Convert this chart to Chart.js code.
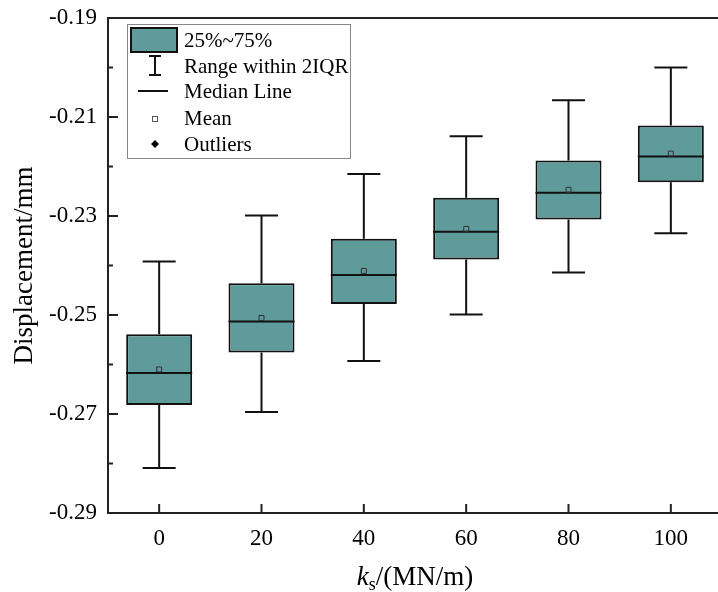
<!DOCTYPE html>
<html>
<head>
<meta charset="utf-8">
<script src="https://cdn.jsdelivr.net/npm/chart.js@4"></script>
<style>
  html, body { margin: 0; padding: 0; background: #fff; }
  #wrap { width: 718px; height: 592px; overflow: hidden; position: relative; }
  canvas { display: block; }
</style>
</head>
<body>
<div id="wrap"><canvas id="chart" width="727" height="592" style="width:727px;height:592px"></canvas></div>
<script>
// values
const categories = ['0', '20', '40', '60', '80', '100'];
const whiskerLow = [-0.2809, -0.2696, -0.2593, -0.2499, -0.2414, -0.2335];
const q1 = [-0.2682, -0.2576, -0.2478, -0.2388, -0.2307, -0.2232];
const median = [-0.2617, -0.2513, -0.2419, -0.2332, -0.2253, -0.2180];
const q3 = [-0.2539, -0.2436, -0.2346, -0.2263, -0.2188, -0.2117];
const whiskerHigh = [-0.2392, -0.2299, -0.2215, -0.2139, -0.2066, -0.2000];
const mean = [-0.2610, -0.2506, -0.2411, -0.2326, -0.2247, -0.2174];
const yTickLabels = [-0.29, -0.27, -0.25, -0.23, -0.21, -0.19];

const teal = '#609b9b';
const ink = '#111';
const serif = "'Liberation Serif', 'Times New Roman', serif";

function isMajor(v) {
  return yTickLabels.some(t => Math.abs(t - v) < 1e-6);
}

// whiskers + median lines, drawn right after the boxes
const boxExtras = {
  id: 'boxExtras',
  afterDatasetDraw(chart, args) {
    if (args.index !== 0) return;
    const ctx = chart.ctx;
    const y = chart.scales.y;
    const meta = chart.getDatasetMeta(0);
    ctx.save();
    ctx.strokeStyle = ink;
    ctx.lineWidth = 2;
    meta.data.forEach((bar, i) => {
      const cx = bar.x;
      const half = bar.width / 2;
      const cap = half / 2;
      const yHi = y.getPixelForValue(whiskerHigh[i]);
      const yQ3 = y.getPixelForValue(q3[i]);
      const yQ1 = y.getPixelForValue(q1[i]);
      const yLo = y.getPixelForValue(whiskerLow[i]);
      const yMed = y.getPixelForValue(median[i]);
      ctx.beginPath();
      ctx.moveTo(cx, yHi); ctx.lineTo(cx, yQ3);
      ctx.moveTo(cx, yQ1); ctx.lineTo(cx, yLo);
      ctx.moveTo(cx - cap, yHi); ctx.lineTo(cx + cap, yHi);
      ctx.moveTo(cx - cap, yLo); ctx.lineTo(cx + cap, yLo);
      ctx.moveTo(cx - half, yMed); ctx.lineTo(cx + half, yMed);
      ctx.stroke();
    });
    ctx.restore();
  }
};

// frame, inward ticks, x title and the legend box
const frameAndLegend = {
  id: 'frameAndLegend',
  afterDraw(chart) {
    const ctx = chart.ctx;
    const a = chart.chartArea;
    const x = chart.scales.x;
    const y = chart.scales.y;
    ctx.save();
    ctx.strokeStyle = '#222';
    ctx.lineWidth = 2;
    ctx.strokeRect(a.left, a.top, a.right - a.left, a.bottom - a.top);

    ctx.beginPath();
    y.ticks.forEach((t, i) => {
      const py = y.getPixelForTick(i);
      const len = isMajor(t.value) ? 10 : 5;
      ctx.moveTo(a.left, py); ctx.lineTo(a.left + len, py);
    });
    x.ticks.forEach((t, i) => {
      const px = x.getPixelForTick(i);
      ctx.moveTo(px, a.bottom); ctx.lineTo(px, a.bottom - 9);
    });
    ctx.stroke();

    // x axis title: k_s/(MN/m)
    ctx.fillStyle = '#000';
    ctx.textBaseline = 'alphabetic';
    const mainFont = '27px ' + serif;
    const italFont = 'italic 27px ' + serif;
    const subFont = '18px ' + serif;
    ctx.font = italFont; const wk = ctx.measureText('k').width;
    ctx.font = subFont; const ws = ctx.measureText('s').width;
    ctx.font = mainFont; const wr = ctx.measureText('/(MN/m)').width;
    let tx = (a.left + a.right) / 2 - (wk + ws + wr) / 2;
    const base = 585;
    ctx.textAlign = 'left';
    ctx.font = italFont; ctx.fillText('k', tx, base); tx += wk;
    ctx.font = subFont; ctx.fillText('s', tx, base + 5); tx += ws;
    ctx.font = mainFont; ctx.fillText('/(MN/m)', tx, base);

    // legend
    const lx = a.left + 19, ly = a.top + 6;
    ctx.strokeStyle = '#888';
    ctx.lineWidth = 1;
    ctx.strokeRect(lx + 0.5, ly + 0.5, 223, 134);

    const sx = lx + 28; // symbol centre
    ctx.fillStyle = teal;
    ctx.fillRect(lx + 4, ly + 4, 46, 24);
    ctx.strokeStyle = ink;
    ctx.lineWidth = 2;
    ctx.strokeRect(lx + 4, ly + 4, 46, 24);

    ctx.beginPath();
    ctx.moveTo(sx, ly + 32); ctx.lineTo(sx, ly + 51);
    ctx.moveTo(sx - 6, ly + 32); ctx.lineTo(sx + 6, ly + 32);
    ctx.moveTo(sx - 6, ly + 51); ctx.lineTo(sx + 6, ly + 51);
    ctx.moveTo(lx + 11, ly + 67); ctx.lineTo(lx + 41, ly + 67);
    ctx.stroke();

    ctx.fillStyle = '#fff';
    ctx.strokeStyle = '#555';
    ctx.lineWidth = 1;
    ctx.fillRect(sx - 2.5, ly + 92.5, 5, 5);
    ctx.strokeRect(sx - 2.5, ly + 92.5, 5, 5);

    ctx.fillStyle = '#000';
    ctx.beginPath();
    ctx.moveTo(sx, ly + 116); ctx.lineTo(sx + 4, ly + 120);
    ctx.lineTo(sx, ly + 124); ctx.lineTo(sx - 4, ly + 120);
    ctx.closePath(); ctx.fill();

    ctx.font = '21px ' + serif;
    ctx.textBaseline = 'middle';
    const labels = ['25%~75%', 'Range within 2IQR', 'Median Line', 'Mean', 'Outliers'];
    const rows = [16, 42, 67, 94, 120];
    labels.forEach((s, i) => ctx.fillText(s, lx + 57, ly + rows[i] + 1));
    ctx.restore();
  }
};

new Chart(document.getElementById('chart'), {
  data: {
    labels: categories,
    datasets: [
      {
        type: 'bar',
        order: 2,
        data: q1.map((v, i) => [v, q3[i]]),
        backgroundColor: teal,
        borderColor: ink,
        borderWidth: 2,
        borderSkipped: false,
        categoryPercentage: 1,
        barPercentage: 0.645
      },
      {
        type: 'line',
        order: 1,
        data: mean,
        showLine: false,
        pointStyle: 'rect',
        pointRadius: 3.5,
        pointBackgroundColor: 'rgba(0,0,0,0)',
        pointBorderColor: '#333',
        pointBorderWidth: 1
      }
    ]
  },
  options: {
    responsive: false,
    animation: false,
    events: [],
    layout: { padding: { top: 18, left: 0, right: 0, bottom: 0 } },
    plugins: { legend: { display: false }, tooltip: { enabled: false } },
    scales: {
      x: {
        type: 'category',
        offset: true,
        grid: { display: false, drawTicks: false },
        border: { display: false },
        ticks: { color: '#000', padding: 12, font: { family: serif, size: 23 } },
        afterFit(s) { s.height = 79; }
      },
      y: {
        min: -0.29,
        max: -0.19,
        grid: { display: false, drawTicks: false },
        border: { display: false },
        ticks: {
          stepSize: 0.01,
          color: '#000',
          padding: 11,
          font: { family: serif, size: 23 },
          callback: v => isMajor(v) ? v.toFixed(2) : ''
        },
        title: {
          display: true,
          text: 'Displacement/mm',
          color: '#000',
          font: { family: serif, size: 27 },
          padding: { top: 9, bottom: 0 }
        },
        afterFit(s) { s.width = 108; s.paddingTop = 0; s.paddingBottom = 0; }
      }
    }
  },
  plugins: [boxExtras, frameAndLegend]
});
</script>
</body>
</html>
